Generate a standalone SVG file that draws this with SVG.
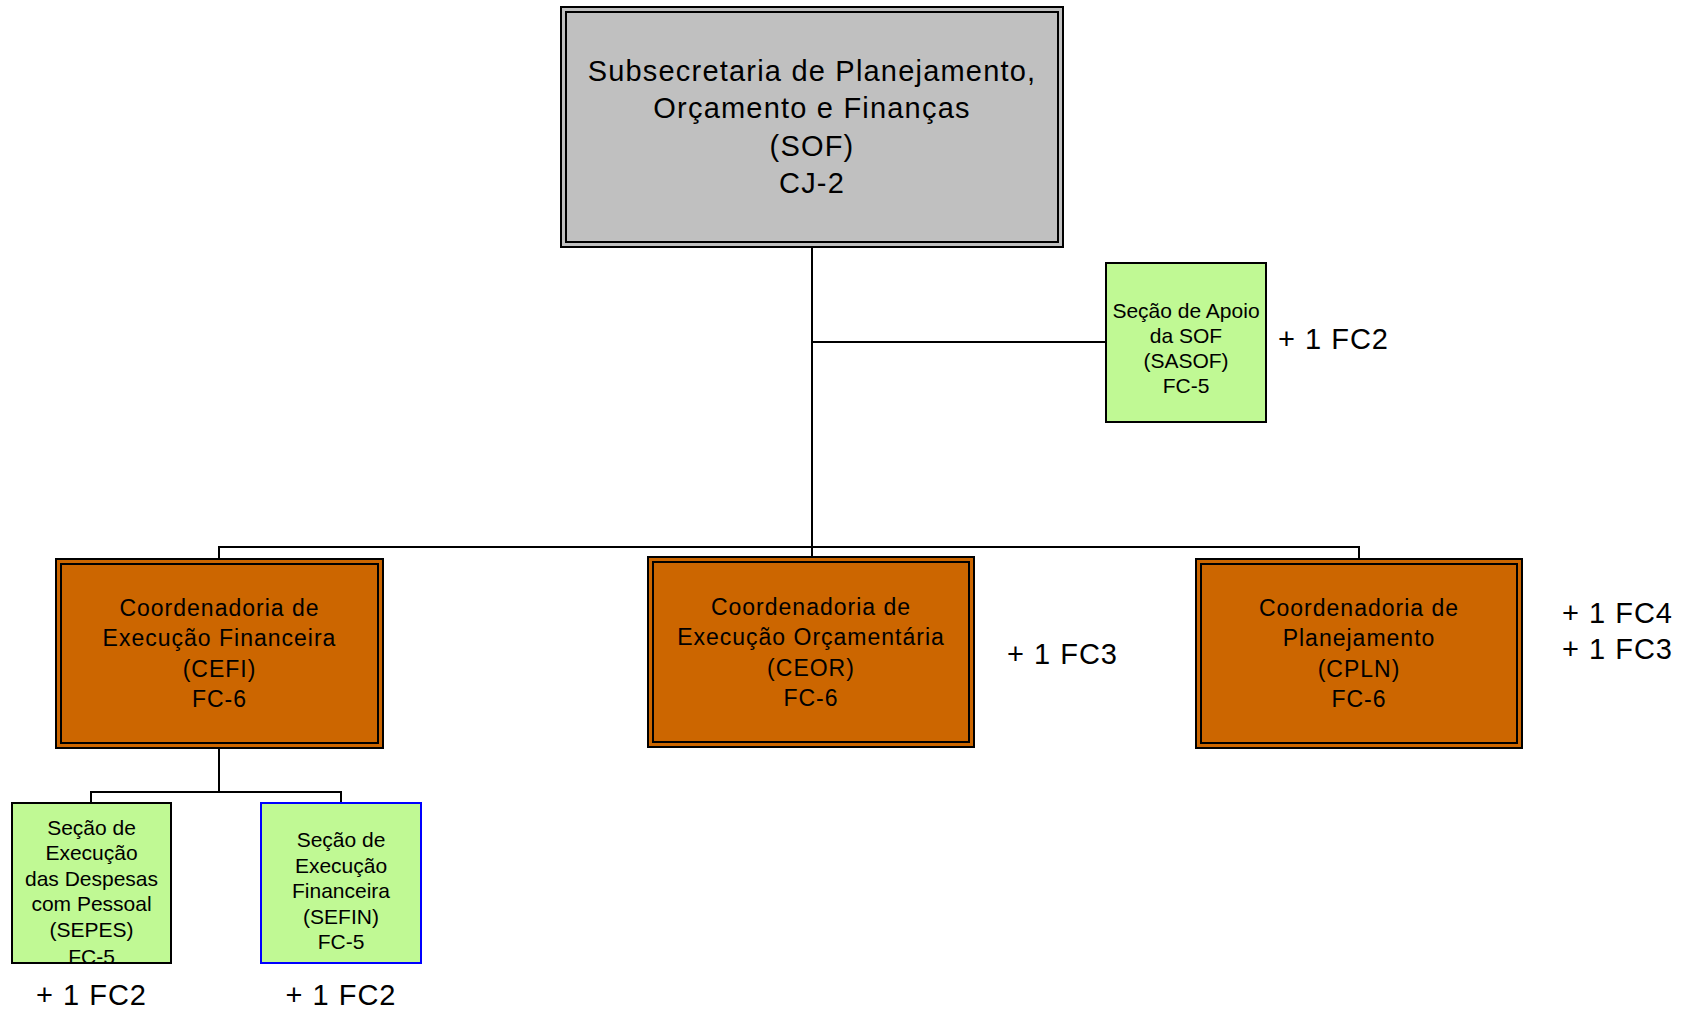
<svg xmlns="http://www.w3.org/2000/svg" width="1691" height="1010" viewBox="0 0 1691 1010">
<style>
  text { font-family: "Liberation Sans", Arial, sans-serif; fill: #000; }
  .big { font-size: 29px; letter-spacing: 1.2px; text-anchor: middle; }
  .mid { font-size: 23px; letter-spacing: 1px; text-anchor: middle; }
  .small { font-size: 21px; text-anchor: middle; }
  .note { font-size: 29px; letter-spacing: 1px; }
  .notec { font-size: 29px; letter-spacing: 1px; text-anchor: middle; }
  .outer { stroke: #000; stroke-width: 2; }
  .inner { fill: none; stroke: #000; stroke-width: 2; }
  .gray { fill: #C0C0C0; }
  .orange { fill: #CC6600; }
  .green { fill: #C0F994; stroke: #000; stroke-width: 2; }
  .green-blue { fill: #C0F994; stroke: #0000FF; stroke-width: 2; }
  .conn { fill: none; stroke: #000; stroke-width: 2; }
</style>
<defs>
  <clipPath id="clipSepes"><rect x="12" y="803" width="159" height="160"/></clipPath>
</defs>
<rect x="0" y="0" width="1691" height="1010" fill="#fff"/>

<g id="connectors">
  <path class="conn" d="M812,247 V547"/>
  <path class="conn" d="M812,342 H1106"/>
  <path class="conn" d="M219,559 V547 H1359 V559"/>
  <path class="conn" d="M812,547 V557"/>
  <path class="conn" d="M219,748 V792"/>
  <path class="conn" d="M91,803 V792 H341 V803"/>
</g>

<g id="node-sof">
  <rect class="outer gray" x="561" y="7" width="502" height="240"/>
  <rect class="inner" x="566" y="12" width="492" height="230"/>
  <text class="big" x="812" y="81">Subsecretaria de Planejamento,</text>
  <text class="big" x="812" y="118">Orçamento e Finanças</text>
  <text class="big" x="812" y="156">(SOF)</text>
  <text class="big" x="812" y="193">CJ-2</text>
</g>

<g id="node-sasof">
  <rect class="green" x="1106" y="263" width="160" height="159"/>
  <text class="small" x="1186" y="318">Seção de Apoio</text>
  <text class="small" x="1186" y="343">da SOF</text>
  <text class="small" x="1186" y="368">(SASOF)</text>
  <text class="small" x="1186" y="393">FC-5</text>
</g>
<text id="note-sasof" class="note" x="1278" y="349">+ 1 FC2</text>

<g id="node-cefi">
  <rect class="outer orange" x="56" y="559" width="327" height="189"/>
  <rect class="inner" x="61" y="564" width="317" height="179"/>
  <text class="mid" x="219.5" y="616">Coordenadoria de</text>
  <text class="mid" x="219.5" y="646">Execução Financeira</text>
  <text class="mid" x="219.5" y="677">(CEFI)</text>
  <text class="mid" x="219.5" y="707">FC-6</text>
</g>

<g id="node-ceor">
  <rect class="outer orange" x="648" y="557" width="326" height="190"/>
  <rect class="inner" x="653" y="562" width="316" height="180"/>
  <text class="mid" x="811" y="615">Coordenadoria de</text>
  <text class="mid" x="811" y="645">Execução Orçamentária</text>
  <text class="mid" x="811" y="676">(CEOR)</text>
  <text class="mid" x="811" y="706">FC-6</text>
</g>
<text id="note-ceor" class="note" x="1007" y="664">+ 1 FC3</text>

<g id="node-cpln">
  <rect class="outer orange" x="1196" y="559" width="326" height="189"/>
  <rect class="inner" x="1201" y="564" width="316" height="179"/>
  <text class="mid" x="1359" y="616">Coordenadoria de</text>
  <text class="mid" x="1359" y="646">Planejamento</text>
  <text class="mid" x="1359" y="677">(CPLN)</text>
  <text class="mid" x="1359" y="707">FC-6</text>
</g>
<g id="note-cpln">
  <text class="note" x="1562" y="623">+ 1 FC4</text>
  <text class="note" x="1562" y="659">+ 1 FC3</text>
</g>

<g id="node-sepes">
  <rect x="12" y="803" width="159" height="160" fill="#C0F994"/>
  <g clip-path="url(#clipSepes)">
    <text class="small" x="91.5" y="835">Seção de</text>
    <text class="small" x="91.5" y="860">Execução</text>
    <text class="small" x="91.5" y="886">das Despesas</text>
    <text class="small" x="91.5" y="911">com Pessoal</text>
    <text class="small" x="91.5" y="937">(SEPES)</text>
    <text class="small" x="91.5" y="964">FC-5</text>
  </g>
  <rect x="12" y="803" width="159" height="160" fill="none" stroke="#000" stroke-width="2"/>
</g>
<text id="note-sepes" class="notec" x="91.5" y="1005">+ 1 FC2</text>

<g id="node-sefin">
  <rect class="green-blue" x="261" y="803" width="160" height="160"/>
  <text class="small" x="341" y="847">Seção de</text>
  <text class="small" x="341" y="873">Execução</text>
  <text class="small" x="341" y="898">Financeira</text>
  <text class="small" x="341" y="924">(SEFIN)</text>
  <text class="small" x="341" y="949">FC-5</text>
</g>
<text id="note-sefin" class="notec" x="341" y="1005">+ 1 FC2</text>
</svg>
